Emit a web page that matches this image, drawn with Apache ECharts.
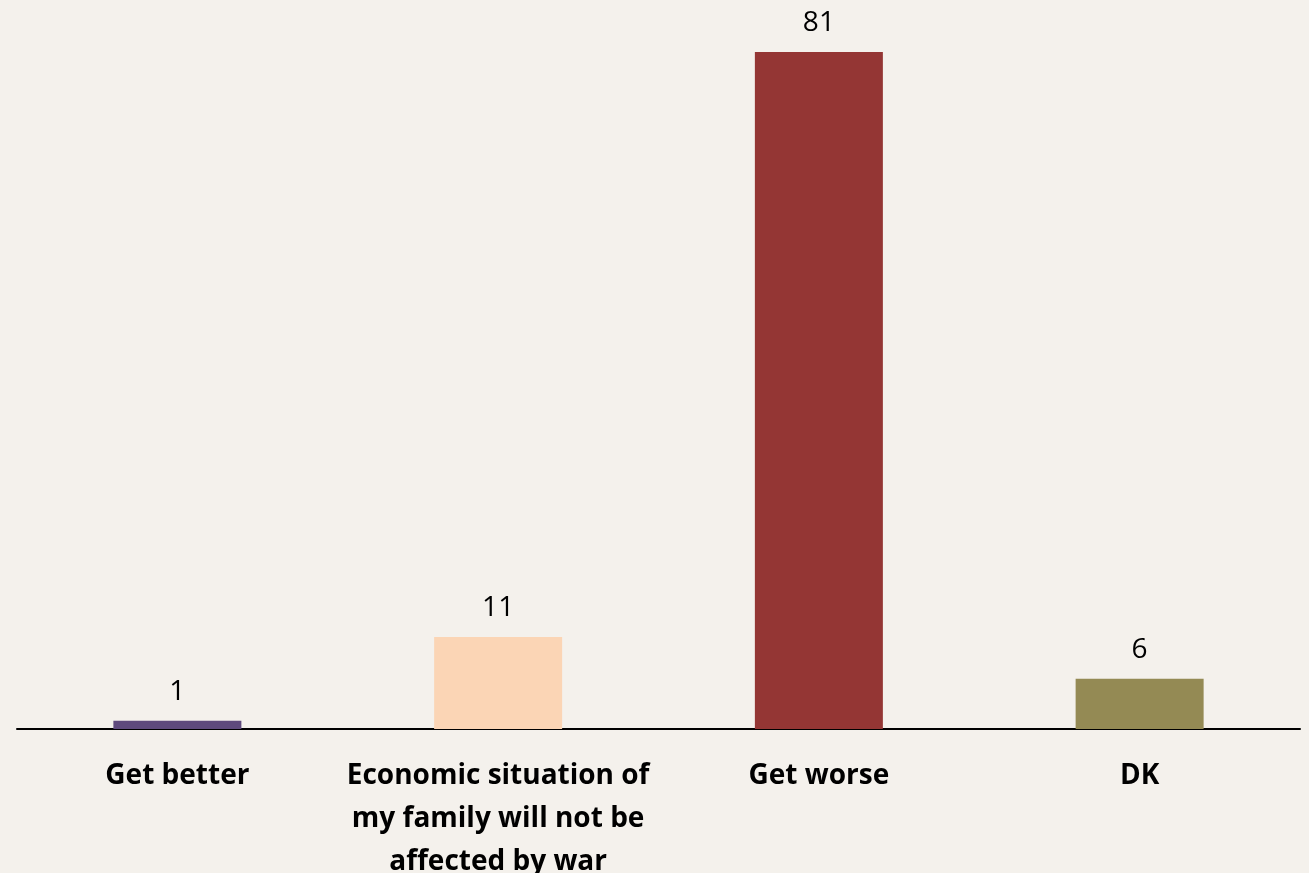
<!DOCTYPE html>
<html>
<head>
<meta charset="utf-8">
<script src="https://cdn.jsdelivr.net/npm/echarts@6/dist/echarts.min.js"></script>
<style>
  html, body { margin: 0; padding: 0; background: #f4f1ec; }
  #chart { width: 1309px; height: 873px; }
</style>
</head>
<body>
<div id="chart"></div>
<script>
// 类别与数值
const categories = ['Get better', 'Economic situation of\nmy family will not be\naffected by war', 'Get worse', 'DK']
const values = [1, 11, 81, 6]
const barColors = ['#5f4a7d', '#fbd5b5', '#943634', '#948a54']

const chart = echarts.init(document.getElementById('chart'))

const option = {
  backgroundColor: '#f4f1ec',
  animation: false,
  grid: { left: 17, right: 9, top: 52, bottom: 144, outerBoundsMode: 'none', containLabel: false },
  xAxis: {
    type: 'category',
    data: categories,
    axisLine: { lineStyle: { color: '#000', width: 2 } },
    axisTick: { show: false },
    axisLabel: {
      interval: 0,
      margin: 26,
      color: '#000',
      fontFamily: 'Open Sans',
      fontWeight: 'bold',
      fontSize: 28,
      lineHeight: 43
    }
  },
  yAxis: {
    type: 'value',
    min: 0,
    max: 81,
    show: false
  },
  series: [
    {
      type: 'bar',
      barWidth: 128,
      data: values.map((v, i) => ({ value: v, itemStyle: { color: barColors[i] } })),
      label: {
        show: true,
        position: 'top',
        distance: 13,
        color: '#000',
        fontFamily: 'Open Sans',
        fontSize: 28,
        lineHeight: 32
      }
    }
  ]
}

chart.setOption(option)
</script>
</body>
</html>
